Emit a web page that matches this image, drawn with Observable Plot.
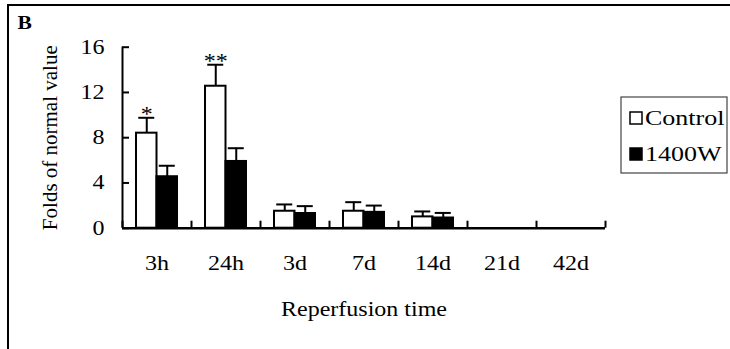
<!DOCTYPE html>
<html><head><meta charset="utf-8">
<script src="https://cdn.jsdelivr.net/npm/d3@7"></script>
<script src="https://cdn.jsdelivr.net/npm/@observablehq/plot@0.6"></script>
<style>body{margin:0;background:#fff;} #chart{width:730px;height:349px;}</style>
</head><body><div id="chart"></div>
<script>
// ---- data ----
const categories = ["3h", "24h", "3d", "7d", "14d", "21d", "42d"];
const series = ["Control", "1400W"];
const controlMean = [8.4, 12.55, 1.5, 1.5, 1.0, 0, 0];
const controlErr  = [1.36, 1.9, 0.6, 0.8, 0.48, 0, 0];
const w1400Mean   = [4.55, 5.9, 1.3, 1.4, 0.9, 0, 0];
const w1400Err    = [0.97, 1.17, 0.65, 0.6, 0.45, 0, 0];
const stars       = ["*", "**", "", "", "", "", ""];
const yTicks      = [0, 4, 8, 12, 16];
const xTitle = "Reperfusion time";
const yTitle = "Folds of normal value";
const panelLabel = "B";

// ---- layout constants ----
const W = 730, H = 349;
const mL = 122, mR = 125, mT = 46.7, mB = 121.3;
const frameW = W - mL - mR, frameH = H - mT - mB;
const bw = 20.5 / 69;       // bar width, in category units
const capHalf = 8 / 69;     // error cap half width
const FS = 20;
const FONT = "'Liberation Serif', 'Times New Roman', serif";

const rows = [];
categories.forEach((c, i) => {
  rows.push({cat: c, i, series: "Control", mean: controlMean[i], err: controlErr[i], star: stars[i],
             x1: i + 0.5 - bw, x2: i + 0.5, cx: i + 0.5 - bw / 2});
  rows.push({cat: c, i, series: "1400W", mean: w1400Mean[i], err: w1400Err[i], star: "",
             x1: i + 0.5, x2: i + 0.5 + bw, cx: i + 0.5 + bw / 2});
});
const barRows = rows.filter(d => d.mean > 0);
const errRows = rows.filter(d => d.err > 0);
const starRows = rows.filter(d => d.star);

const plot = Plot.plot({
  width: W, height: H,
  marginLeft: mL, marginRight: mR, marginTop: mT, marginBottom: mB,
  style: {fontFamily: FONT, fontSize: FS + "px", background: "white", color: "black"},
  x: {domain: [0, categories.length], axis: null},
  y: {domain: [0, 16], axis: null},
  color: {domain: series, range: ["white", "black"]},
  marks: [
    Plot.rectY(barRows, {x1: "x1", x2: "x2", y1: 0, y2: "mean", fill: "series", stroke: "black", strokeWidth: 2}),
    Plot.ruleX(errRows, {x: "cx", y1: "mean", y2: d => d.mean + d.err, stroke: "black", strokeWidth: 2}),
    Plot.ruleY(errRows, {y: d => d.mean + d.err, x1: d => d.cx - capHalf, x2: d => d.cx + capHalf, stroke: "black", strokeWidth: 2}),
    Plot.text(starRows, {x: "cx", y: d => d.mean + d.err, text: "star", lineAnchor: "bottom", dy: 3, fontSize: FS}),
    Plot.ruleY([0], {stroke: "black", strokeWidth: 2.5}),
    Plot.ruleX([0], {stroke: "black", strokeWidth: 2}),
    Plot.tickY(yTicks, {y: d => d, insetRight: frameW - 7, stroke: "black", strokeWidth: 2}),
    Plot.tickX(d3.range(categories.length + 1), {x: d => d, insetTop: frameH - 7, stroke: "black", strokeWidth: 2}),
    Plot.axisY({ticks: yTicks, tickSize: 0, tickPadding: 18, label: null, fontSize: FS}),
    Plot.axisX({ticks: categories.map((c, i) => i + 0.5), tickFormat: d => categories[Math.floor(d)],
                tickSize: 0, tickPadding: 28, label: null, fontSize: FS}),
    Plot.text([xTitle], {frameAnchor: "bottom", dy: 81, lineAnchor: "middle", fontSize: FS}),
    Plot.text([yTitle], {frameAnchor: "left", dx: -72, rotate: -90, textAnchor: "middle", lineAnchor: "middle", fontSize: FS}),
    Plot.text([panelLabel], {frameAnchor: "top-left", dx: -105, dy: -30.5, textAnchor: "start", lineAnchor: "top", fontSize: 18, fontWeight: "bold"})
  ]
});
document.getElementById("chart").appendChild(plot);

// outer frame (top and left edges visible)
const svg = d3.select(plot);
svg.append("path").attr("d", `M8,${H} V5 H${W}`).attr("fill", "none").attr("stroke", "black").attr("stroke-width", 2);

// legend
const lg = svg.append("g").attr("font-family", FONT).attr("font-size", FS).attr("text-anchor", "start");
lg.append("rect").attr("x", 621).attr("y", 97).attr("width", 106).attr("height", 76)
  .attr("fill", "white").attr("stroke", "#444").attr("stroke-width", 1.2);
series.forEach((s, i) => {
  const y = 112 + i * 36;
  lg.append("rect").attr("x", 630).attr("y", y).attr("width", 12).attr("height", 12)
    .attr("fill", i ? "black" : "white").attr("stroke", "black").attr("stroke-width", 1.5);
  lg.append("text").attr("class", "lg").attr("x", 645).attr("y", y + 13)
    .attr("text-anchor", "start").attr("fill", "black").text(s);
});

// horizontal stretch of glyphs to match the reference's wide serif type
plot.querySelectorAll("text").forEach(t => {
  const len = t.getComputedTextLength();
  if (!len) return;
  let f = 1.2;
  if (t.textContent === yTitle) f = 1.05;
  if (t.textContent === panelLabel) f = 1.2;
  if (t.classList.contains("lg")) f = 1.3;
  t.setAttribute("textLength", (len * f).toFixed(1));
  t.setAttribute("lengthAdjust", "spacingAndGlyphs");
});
</script>
</body></html>
